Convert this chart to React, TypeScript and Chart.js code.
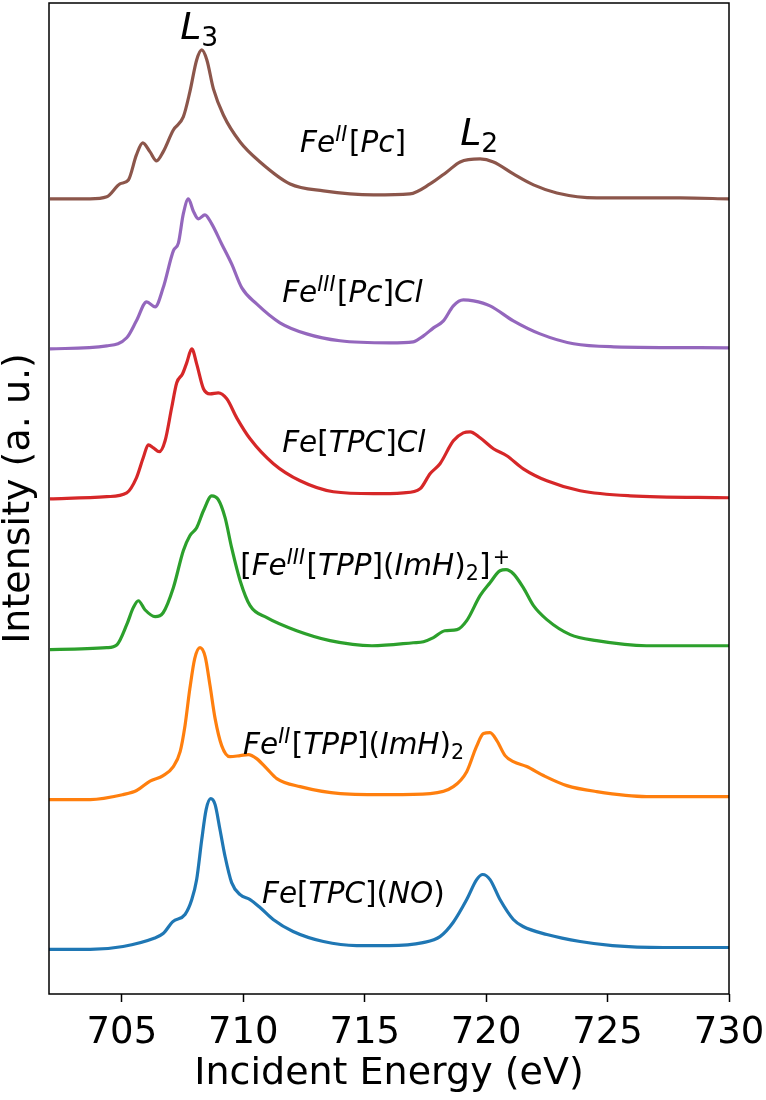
import React, { useEffect, useRef } from "react";
import { Chart, registerables } from "chart.js";

Chart.register(...registerables);

// Fe L-edge XAS spectra, normalised, stacked with a vertical offset of 1 per sample.
const energyFeTPCNO = [702.0, 703.7, 705.05, 706.3, 706.7, 707.1, 707.6, 707.88, 708.08, 708.29, 708.47, 708.66, 708.84, 709.04, 709.25, 709.52, 709.87, 710.28, 710.69, 711.23, 712.05, 713.3, 714.67, 716.0, 717.4, 718.1, 718.64, 719.2, 719.61, 719.86, 720.16, 720.57, 721.12, 721.52, 722.5, 723.87, 725.2, 727.3, 730.0];
const intensityFeTPCNO = [-0.013, -0.013, 0.007, 0.06, 0.093, 0.173, 0.22, 0.32, 0.453, 0.72, 0.92, 0.993, 0.953, 0.787, 0.607, 0.433, 0.353, 0.32, 0.267, 0.187, 0.107, 0.04, 0.013, 0.013, 0.033, 0.073, 0.167, 0.32, 0.453, 0.487, 0.453, 0.32, 0.187, 0.14, 0.087, 0.04, 0.013, 0.0, 0.0];

const energyFeIITPP = [702.0, 703.7, 705.05, 705.61, 706.16, 706.7, 707.12, 707.4, 707.6, 707.8, 708.0, 708.22, 708.43, 708.63, 708.84, 709.11, 709.45, 709.87, 710.21, 710.55, 710.97, 711.38, 712.34, 714.0, 716.04, 717.7, 718.65, 719.2, 719.6, 719.89, 720.16, 720.44, 720.78, 721.12, 721.67, 722.36, 723.32, 724.55, 726.6, 730.0];
const intensityFeIITPP = [-0.013, -0.013, 0.02, 0.047, 0.11, 0.147, 0.207, 0.307, 0.48, 0.727, 0.927, 1.0, 0.94, 0.747, 0.527, 0.347, 0.273, 0.28, 0.287, 0.26, 0.193, 0.127, 0.073, 0.027, 0.02, 0.027, 0.073, 0.173, 0.34, 0.427, 0.433, 0.38, 0.28, 0.24, 0.207, 0.147, 0.08, 0.04, 0.007, 0.007];

const energyFeIIITPP = [702.04, 704.38, 704.8, 705.2, 705.47, 705.68, 705.95, 706.37, 706.7, 707.12, 707.53, 707.8, 708.08, 708.36, 708.7, 708.97, 709.25, 709.52, 709.87, 710.28, 710.97, 712.2, 713.57, 715.3, 717.0, 717.42, 717.83, 718.3, 718.8, 719.2, 719.75, 720.16, 720.57, 720.82, 721.12, 721.53, 721.95, 722.5, 723.46, 724.55, 726.6, 730.0];
const intensityFeIIITPP = [-0.013, 0.0, 0.02, 0.153, 0.267, 0.313, 0.253, 0.207, 0.233, 0.4, 0.647, 0.747, 0.8, 0.913, 1.013, 0.987, 0.867, 0.667, 0.447, 0.28, 0.2, 0.113, 0.047, 0.013, 0.033, 0.04, 0.067, 0.113, 0.12, 0.18, 0.347, 0.433, 0.513, 0.52, 0.493, 0.4, 0.28, 0.187, 0.087, 0.047, 0.013, 0.013];

const energyFeTPCCl = [702.04, 704.38, 705.2, 705.6, 705.88, 706.09, 706.3, 706.54, 706.78, 707.05, 707.26, 707.5, 707.67, 707.88, 708.08, 708.36, 708.63, 708.97, 709.32, 709.73, 710.28, 711.24, 712.34, 713.71, 715.36, 716.6, 717.28, 717.69, 718.1, 718.65, 719.06, 719.34, 719.75, 720.3, 720.85, 721.53, 722.5, 723.87, 725.93, 730.0];
const intensityFeTPCCl = [-0.007, 0.007, 0.033, 0.133, 0.267, 0.353, 0.333, 0.307, 0.38, 0.6, 0.767, 0.827, 0.9, 0.993, 0.893, 0.727, 0.693, 0.7, 0.66, 0.533, 0.393, 0.227, 0.113, 0.04, 0.027, 0.033, 0.06, 0.16, 0.227, 0.38, 0.433, 0.44, 0.4, 0.327, 0.28, 0.193, 0.113, 0.047, 0.013, 0.0];

const energyFeIIIPcCl = [702.04, 704.38, 705.2, 705.6, 706.02, 706.37, 706.7, 707.12, 707.33, 707.53, 707.74, 707.94, 708.15, 708.42, 708.7, 709.11, 709.52, 709.94, 710.55, 711.51, 712.61, 713.98, 716.04, 717.0, 717.42, 717.83, 718.24, 718.65, 719.06, 719.48, 720.16, 721.12, 722.22, 723.6, 725.25, 730.0];
const intensityFeIIIPcCl = [-0.007, 0.013, 0.067, 0.18, 0.307, 0.273, 0.4, 0.647, 0.7, 0.893, 0.993, 0.913, 0.86, 0.887, 0.827, 0.693, 0.56, 0.4, 0.293, 0.167, 0.093, 0.047, 0.033, 0.04, 0.08, 0.133, 0.18, 0.28, 0.32, 0.313, 0.28, 0.18, 0.093, 0.027, 0.007, 0.0];

const energyFeIIPc = [702.04, 703.69, 704.38, 704.92, 705.27, 705.6, 705.86, 706.16, 706.43, 706.7, 707.12, 707.53, 707.8, 708.08, 708.29, 708.5, 708.77, 709.18, 709.87, 710.69, 711.93, 713.3, 715.36, 716.86, 717.69, 718.38, 718.93, 719.75, 720.3, 721.12, 721.95, 722.91, 724.55, 727.99, 730.0];
const intensityFeIIPc = [-0.007, -0.007, 0.007, 0.093, 0.12, 0.287, 0.367, 0.307, 0.247, 0.307, 0.453, 0.54, 0.707, 0.92, 0.987, 0.92, 0.727, 0.553, 0.373, 0.24, 0.093, 0.047, 0.02, 0.027, 0.093, 0.173, 0.24, 0.26, 0.24, 0.16, 0.087, 0.033, 0.0, 0.0, -0.007];

const seriesEnergies = [energyFeTPCNO, energyFeIITPP, energyFeIIITPP, energyFeTPCCl, energyFeIIIPcCl, energyFeIIPc];
const seriesIntensities = [intensityFeTPCNO, intensityFeIITPP, intensityFeIIITPP, intensityFeTPCCl, intensityFeIIIPcCl, intensityFeIIPc];
const seriesNames = ["Fe[TPC](NO)", "FeII[TPP](ImH)2", "[FeIII[TPP](ImH)2]+", "Fe[TPC]Cl", "FeIII[Pc]Cl", "FeII[Pc]"];
const seriesOffsets = [0, 1, 2, 3, 4, 5];
const seriesColors = ["#1f77b4", "#ff7f0e", "#2ca02c", "#d62728", "#9467bd", "#8c564b"];

const xTickValues = [705, 710, 715, 720, 725, 730];

// Label pieces: i = italic, r = upright; lv 1 = superscript, -1 = subscript.
type Piece = { t: string; s: "i" | "r"; lv: number };
const P = (t: string, s: "i" | "r" = "i", lv = 0): Piece => ({ t, s, lv });

const sampleLabels: { pieces: Piece[]; x: number; y: number; size: number }[] = [
  { pieces: [P("L"), P("3", "r", -1)], x: 707.4, y: 6.058, size: 38 },
  { pieces: [P("L"), P("2", "r", -1)], x: 718.93, y: 5.353, size: 38 },
  { pieces: [P("Fe"), P("II", "i", 1), P("[", "r"), P("Pc"), P("]", "r")], x: 712.34, y: 5.308, size: 29.5 },
  { pieces: [P("Fe"), P("III", "i", 1), P("[", "r"), P("Pc"), P("]", "r"), P("Cl")], x: 711.6, y: 4.308, size: 29.5 },
  { pieces: [P("Fe"), P("[", "r"), P("TPC"), P("]", "r"), P("Cl")], x: 711.6, y: 3.307, size: 29.5 },
  { pieces: [P("[", "r"), P("Fe"), P("III", "i", 1), P("[", "r"), P("TPP"), P("]", "r"), P("(", "r"), P("ImH"), P(")", "r"), P("2", "r", -1), P("]", "r"), P("+", "r", 1)], x: 709.87, y: 2.485, size: 29.5 },
  { pieces: [P("Fe"), P("II", "i", 1), P("[", "r"), P("TPP"), P("]", "r"), P("(", "r"), P("ImH"), P(")", "r"), P("2", "r", -1)], x: 709.99, y: 1.291, size: 29.5 },
  { pieces: [P("Fe"), P("[", "r"), P("TPC"), P("]", "r"), P("(", "r"), P("NO"), P(")", "r")], x: 710.77, y: 0.297, size: 29.5 },
];

const FONT = "'DejaVu Sans'";

function drawPieces(ctx: CanvasRenderingContext2D, pieces: Piece[], x: number, y: number, size: number) {
  let cx = x;
  for (const p of pieces) {
    const fs = p.lv === 0 ? size : size * 0.7;
    const dy = p.lv === 1 ? -size * 0.36 : p.lv === -1 ? size * 0.18 : 0;
    ctx.font = `${p.s === "i" ? "italic " : ""}${fs}px ${FONT}`;
    if (p.lv === 1 && p.s === "r") cx += size * 0.08;
    ctx.fillText(p.t, cx, y + dy);
    cx += ctx.measureText(p.t).width;
    if (p.lv === 1) cx += size * 0.05;
  }
}

const framePlugin = {
  id: "frameAndLabels",
  afterDraw(chart: any) {
    const { ctx, chartArea, scales } = chart;
    ctx.save();
    ctx.strokeStyle = "#000";
    ctx.lineWidth = 1.5;
    ctx.strokeRect(chartArea.left, chartArea.top, chartArea.right - chartArea.left, chartArea.bottom - chartArea.top);
    ctx.fillStyle = "#000";
    ctx.textAlign = "left";
    ctx.textBaseline = "alphabetic";
    for (const lab of sampleLabels) {
      drawPieces(ctx, lab.pieces, scales.x.getPixelForValue(lab.x), scales.y.getPixelForValue(lab.y), lab.size);
    }
    ctx.restore();
  },
};

export default function App() {
  const canvasRef = useRef<HTMLCanvasElement>(null);

  useEffect(() => {
    const datasets = seriesEnergies.map((energies, k) => ({
      label: seriesNames[k],
      data: energies.map((e, i) => ({ x: e, y: seriesIntensities[k][i] + seriesOffsets[k] })),
      borderColor: seriesColors[k],
      backgroundColor: seriesColors[k],
      borderWidth: 3.2,
      pointRadius: 0,
      cubicInterpolationMode: "monotone" as const,
      fill: false,
    }));

    const chart = new Chart(canvasRef.current!, {
      type: "line",
      data: { datasets },
      plugins: [framePlugin],
      options: {
        animation: false,
        responsive: false,
        layout: { padding: { top: 3, right: 37, left: 0, bottom: 0 } },
        plugins: { legend: { display: false }, tooltip: { enabled: false } },
        scales: {
          x: {
            type: "linear",
            min: 702,
            max: 730,
            afterBuildTicks: (s: any) => {
              s.ticks = xTickValues.map((v) => ({ value: v }));
            },
            afterFit: (s: any) => {
              s.height = 106;
              s.paddingLeft = 0;
              s.paddingRight = 0;
            },
            border: { display: false },
            grid: {
              drawOnChartArea: false,
              drawTicks: true,
              tickLength: 8,
              tickWidth: 1.5,
              tickColor: "#000",
            },
            ticks: {
              color: "#000",
              padding: 9,
              maxRotation: 0,
              autoSkip: false,
              font: { family: FONT, size: 37 },
              callback: (v: any) => String(v),
            },
            title: {
              display: true,
              text: "Incident Energy (eV)",
              color: "#000",
              font: { family: FONT, size: 38, lineHeight: 1 },
              padding: { top: 0, bottom: 7 },
            },
          },
          y: {
            type: "linear",
            min: -0.31,
            max: 6.3,
            afterFit: (s: any) => {
              s.width = 49;
              s.paddingTop = 0;
              s.paddingBottom = 0;
            },
            border: { display: false },
            grid: { display: false },
            ticks: { display: false },
            title: {
              display: true,
              text: "Intensity (a. u.)",
              color: "#000",
              font: { family: FONT, size: 38, lineHeight: 1 },
              padding: { top: 0, bottom: 0 },
            },
          },
        },
      },
    });
    return () => chart.destroy();
  }, []);

  return (
    <div style={{ position: "absolute", left: 0, top: 0, width: 766, height: 1100 }}>
      <canvas ref={canvasRef} width={766} height={1100} style={{ display: "block" }} />
    </div>
  );
}
